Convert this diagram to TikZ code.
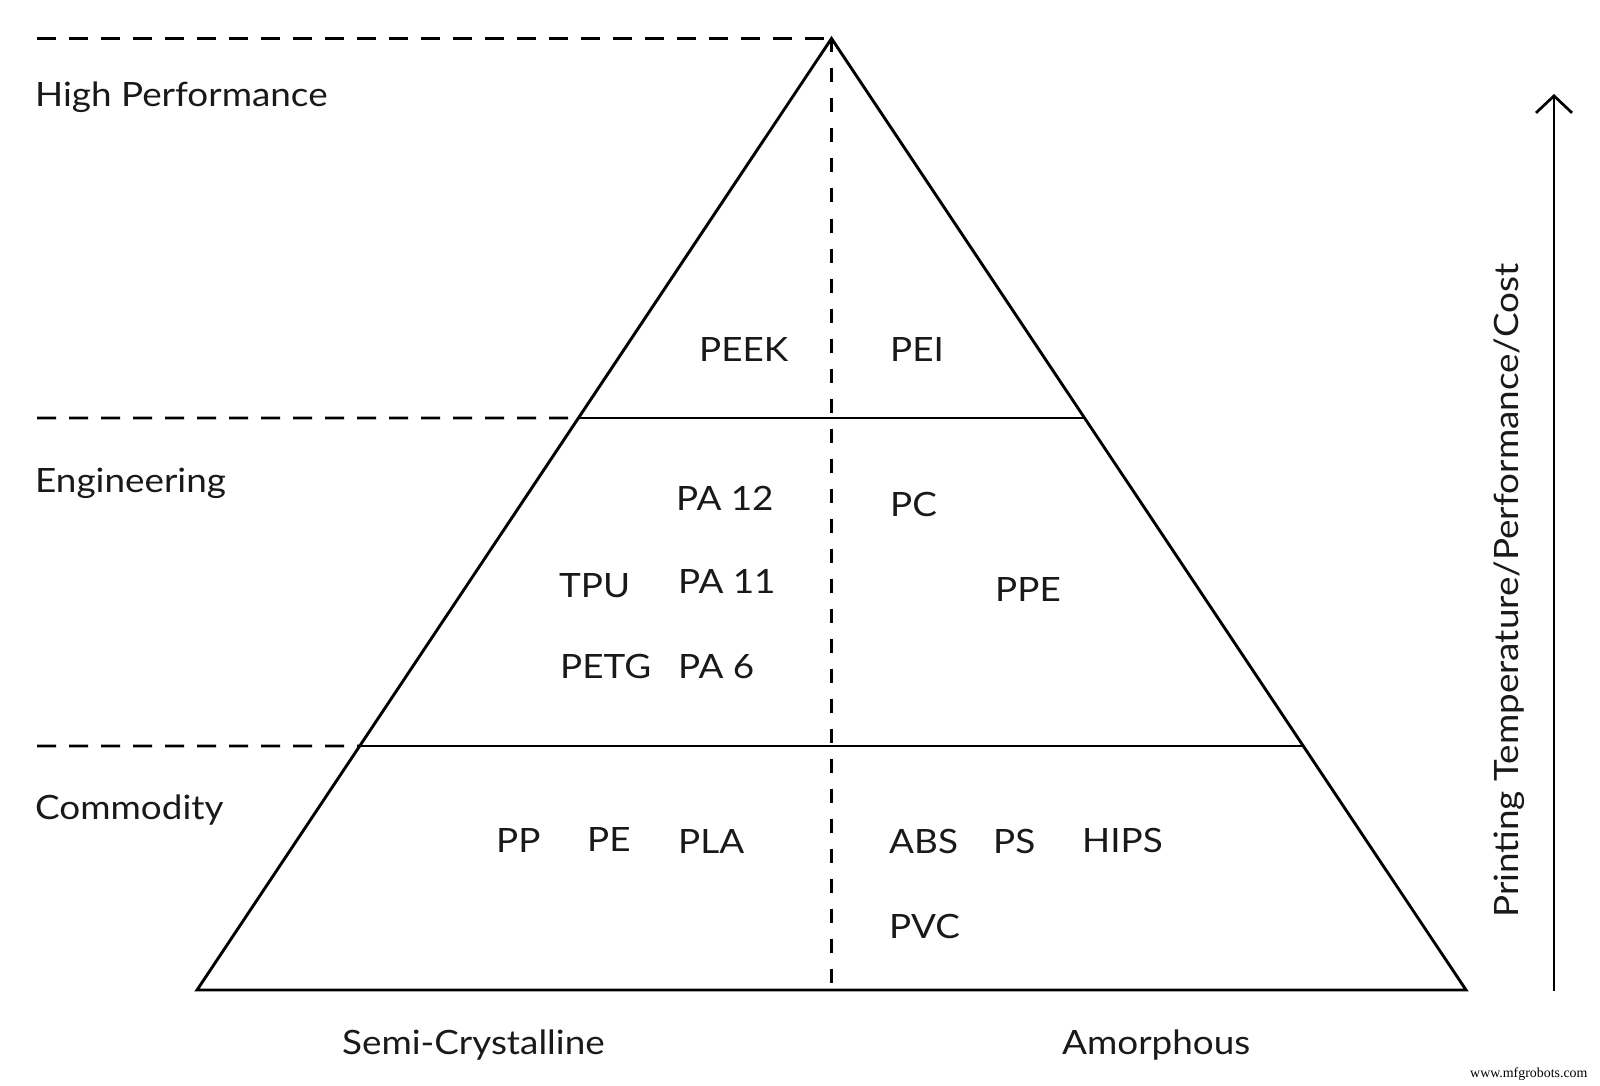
\documentclass[tikz,border=0pt]{standalone}
\usepackage{fontspec}
\setmainfont[FakeStretch=1.1]{Lato}
\newfontfamily\wmfont{Liberation Serif}
\usetikzlibrary{arrows.meta,calc}
\begin{document}
\begin{tikzpicture}[x=1pt,y=-1pt,
  solidline/.style={line width=2.9pt, line join=miter, line cap=butt},
  hdash/.style={line width=2.7pt, dash pattern=on 19pt off 13pt},
  vdash/.style={line width=2.7pt, dash pattern=on 14pt off 16pt},
  lbl/.style={anchor=base west, inner sep=0pt, font=\fontsize{33.5}{40}\selectfont, text=black!90},
  axislbl/.style={lbl, rotate=90},
  wm/.style={anchor=base west, inner sep=0pt, font=\wmfont\fontsize{13.9}{16}\selectfont, text=black}]
\useasboundingbox (0,0) rectangle (1600,1086);
% geometry
\coordinate (apex) at (831.5,38.5);
\coordinate (bl) at (197,990);
\coordinate (br) at (1466,990);
\coordinate (bm) at (831.5,990);
\coordinate (l1) at ($(apex)!0.3988!(bl)$);
\coordinate (r1) at ($(apex)!0.3988!(br)$);
\coordinate (l2) at ($(apex)!0.7436!(bl)$);
\coordinate (r2) at ($(apex)!0.7436!(br)$);
\coordinate (d0) at (37,38.5);
\coordinate (d1) at (37,418);
\coordinate (d2) at (37,746);
% dashed guides
\draw[hdash] (d0) -- (apex);
\draw[hdash] (d1) -- (l1);
\draw[hdash] (d2) -- (l2);
\draw[vdash] (apex) -- (bm);
% pyramid
\draw[solidline] (apex) -- (bl) -- (br) -- cycle;
\draw[solidline] (l1) -- (r1);
\draw[solidline] (l2) -- (r2);
% axis arrow
\coordinate (ab) at (1554,991);
\coordinate (at) at (1554,94);
\draw[line width=2.7pt, -{Straight Barb[length=17pt,width=36pt]}] (ab) -- (at);
% tier labels
\node[lbl] (hp) at (35,107) {High Performance};
\node[lbl] (eng) at (35,492) {Engineering};
\node[lbl] (com) at (35,819) {Commodity};
% materials
\node[lbl] (peek) at (699,361) {PEEK};
\node[lbl] (pei) at (890,361) {PEI};
\node[lbl] (pa12) at (676,510) {PA 12};
\node[lbl] (pc) at (890,516) {PC};
\node[lbl] (tpu) at (559,597) {TPU};
\node[lbl] (pa11) at (678,593) {PA 11};
\node[lbl] (ppe) at (995,601) {PPE};
\node[lbl] (petg) at (560,678) {PETG};
\node[lbl] (pa6) at (678,678) {PA 6};
\node[lbl] (pp) at (496,852) {PP};
\node[lbl] (pe) at (587,851) {PE};
\node[lbl] (pla) at (678,853) {PLA};
\node[lbl] (abs) at (889,853) {ABS};
\node[lbl] (ps) at (993,853) {PS};
\node[lbl] (hips) at (1082,852) {HIPS};
\node[lbl] (pvc) at (889,938) {PVC};
% axis labels
\node[lbl] (semi) at (342,1054) {Semi-Crystalline};
\node[lbl] (amor) at (1062,1054) {Amorphous};
\node[axislbl] (ylab) at (1518,918) {Printing Temperature/Performance/Cost};
\node[wm] (water) at (1470,1077) {www.mfgrobots.com};
\end{tikzpicture}
\end{document}
